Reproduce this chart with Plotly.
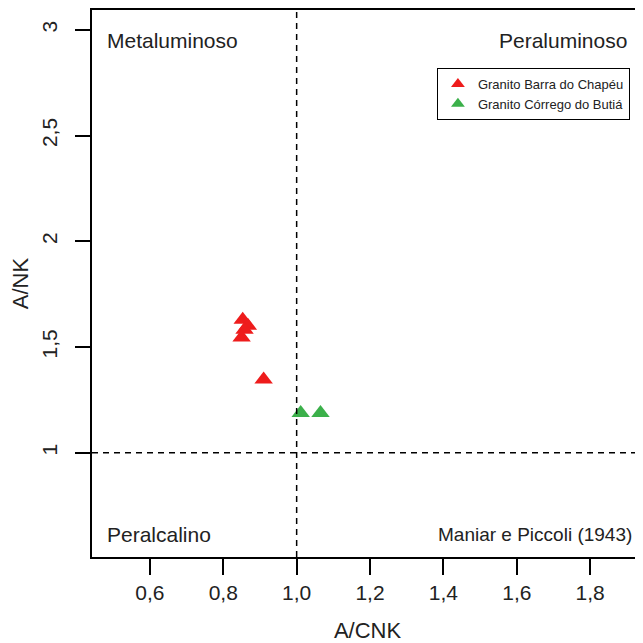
import plotly.graph_objects as go

# Data
barra_x = [0.853, 0.867, 0.858, 0.850, 0.910]
barra_y = [1.629, 1.601, 1.582, 1.545, 1.347]
butia_x = [1.011, 1.065]
butia_y = [1.188, 1.188]

x_tickvals = [0.6, 0.8, 1.0, 1.2, 1.4, 1.6, 1.8]
x_ticktext = ["0,6", "0,8", "1,0", "1,2", "1,4", "1,6", "1,8"]
y_tickvals = [1, 1.5, 2, 2.5, 3]
y_ticktext = ["1", "1,5", "2", "2,5", "3"]

FONT = "Liberation Sans, Arial, sans-serif"
TXT = "#222222"
RED = "#ee1c1c"
GREEN = "#3bb04a"

fig = go.Figure()
fig.add_trace(go.Scatter(x=barra_x, y=barra_y, mode="markers",
                         name="Granito Barra do Chapéu",
                         marker=dict(symbol="triangle-up", size=16, color=RED, line=dict(width=0))))
fig.add_trace(go.Scatter(x=butia_x, y=butia_y, mode="markers",
                         name="Granito Córrego do Butiá",
                         marker=dict(symbol="triangle-up", size=16, color=GREEN, line=dict(width=0))))

# reference lines
fig.add_shape(type="line", xref="x", yref="paper", x0=1.0, x1=1.0, y0=0, y1=1,
              line=dict(color="black", width=1.5, dash="6px,5px"))
fig.add_shape(type="line", xref="paper", yref="y", x0=0, x1=1, y0=1.0, y1=1.0,
              line=dict(color="black", width=1.5, dash="6px,5px"))

labels = [
    ("Metaluminoso", 0.024, 0.945, "left", 21),
    ("Peraluminoso", 0.974, 0.945, "right", 21),
    ("Peralcalino", 0.024, 0.042, "left", 21),
    ("Maniar e Piccoli (1943)", 0.984, 0.042, "right", 19),
]
for txt, x, y, anc, fs in labels:
    fig.add_annotation(text=txt, xref="paper", yref="paper", x=x, y=y,
                       xanchor=anc, yanchor="middle", showarrow=False,
                       font=dict(family=FONT, size=fs, color=TXT))

fig.update_layout(
    width=635, height=635,
    margin=dict(l=83, r=0, t=1, b=83),
    plot_bgcolor="white", paper_bgcolor="white",
    font=dict(family=FONT, color=TXT),
    showlegend=True,
    legend=dict(x=0.626, y=0.894, xanchor="left", yanchor="top",
                bordercolor="black", borderwidth=1, bgcolor="white",
                font=dict(family=FONT, size=13, color=TXT),
                itemsizing="constant", itemwidth=30, tracegroupgap=0),
    xaxis=dict(range=[0.4422, 1.944], tickvals=x_tickvals, ticktext=x_ticktext,
               showgrid=False, zeroline=False, showline=True, mirror=True,
               linecolor="black", linewidth=1.5, ticks="outside", ticklen=16,
               tickwidth=1.5, tickcolor="black",
               tickfont=dict(family=FONT, size=21, color=TXT),
               title=dict(text="A/CNK", font=dict(family=FONT, size=22, color=TXT), standoff=24)),
    yaxis=dict(range=[0.507, 3.094], tickvals=y_tickvals, ticktext=y_ticktext,
               showgrid=False, zeroline=False, showline=True, mirror=False,
               linecolor="black", linewidth=1.5, ticks="outside", ticklen=15,
               tickwidth=1.5, tickcolor="black", tickangle=-90, ticklabelstandoff=10,
               tickfont=dict(family=FONT, size=21, color=TXT),
               title=dict(text="A/NK", font=dict(family=FONT, size=22, color=TXT), standoff=14)),
)

fig.write_html("out.html")
